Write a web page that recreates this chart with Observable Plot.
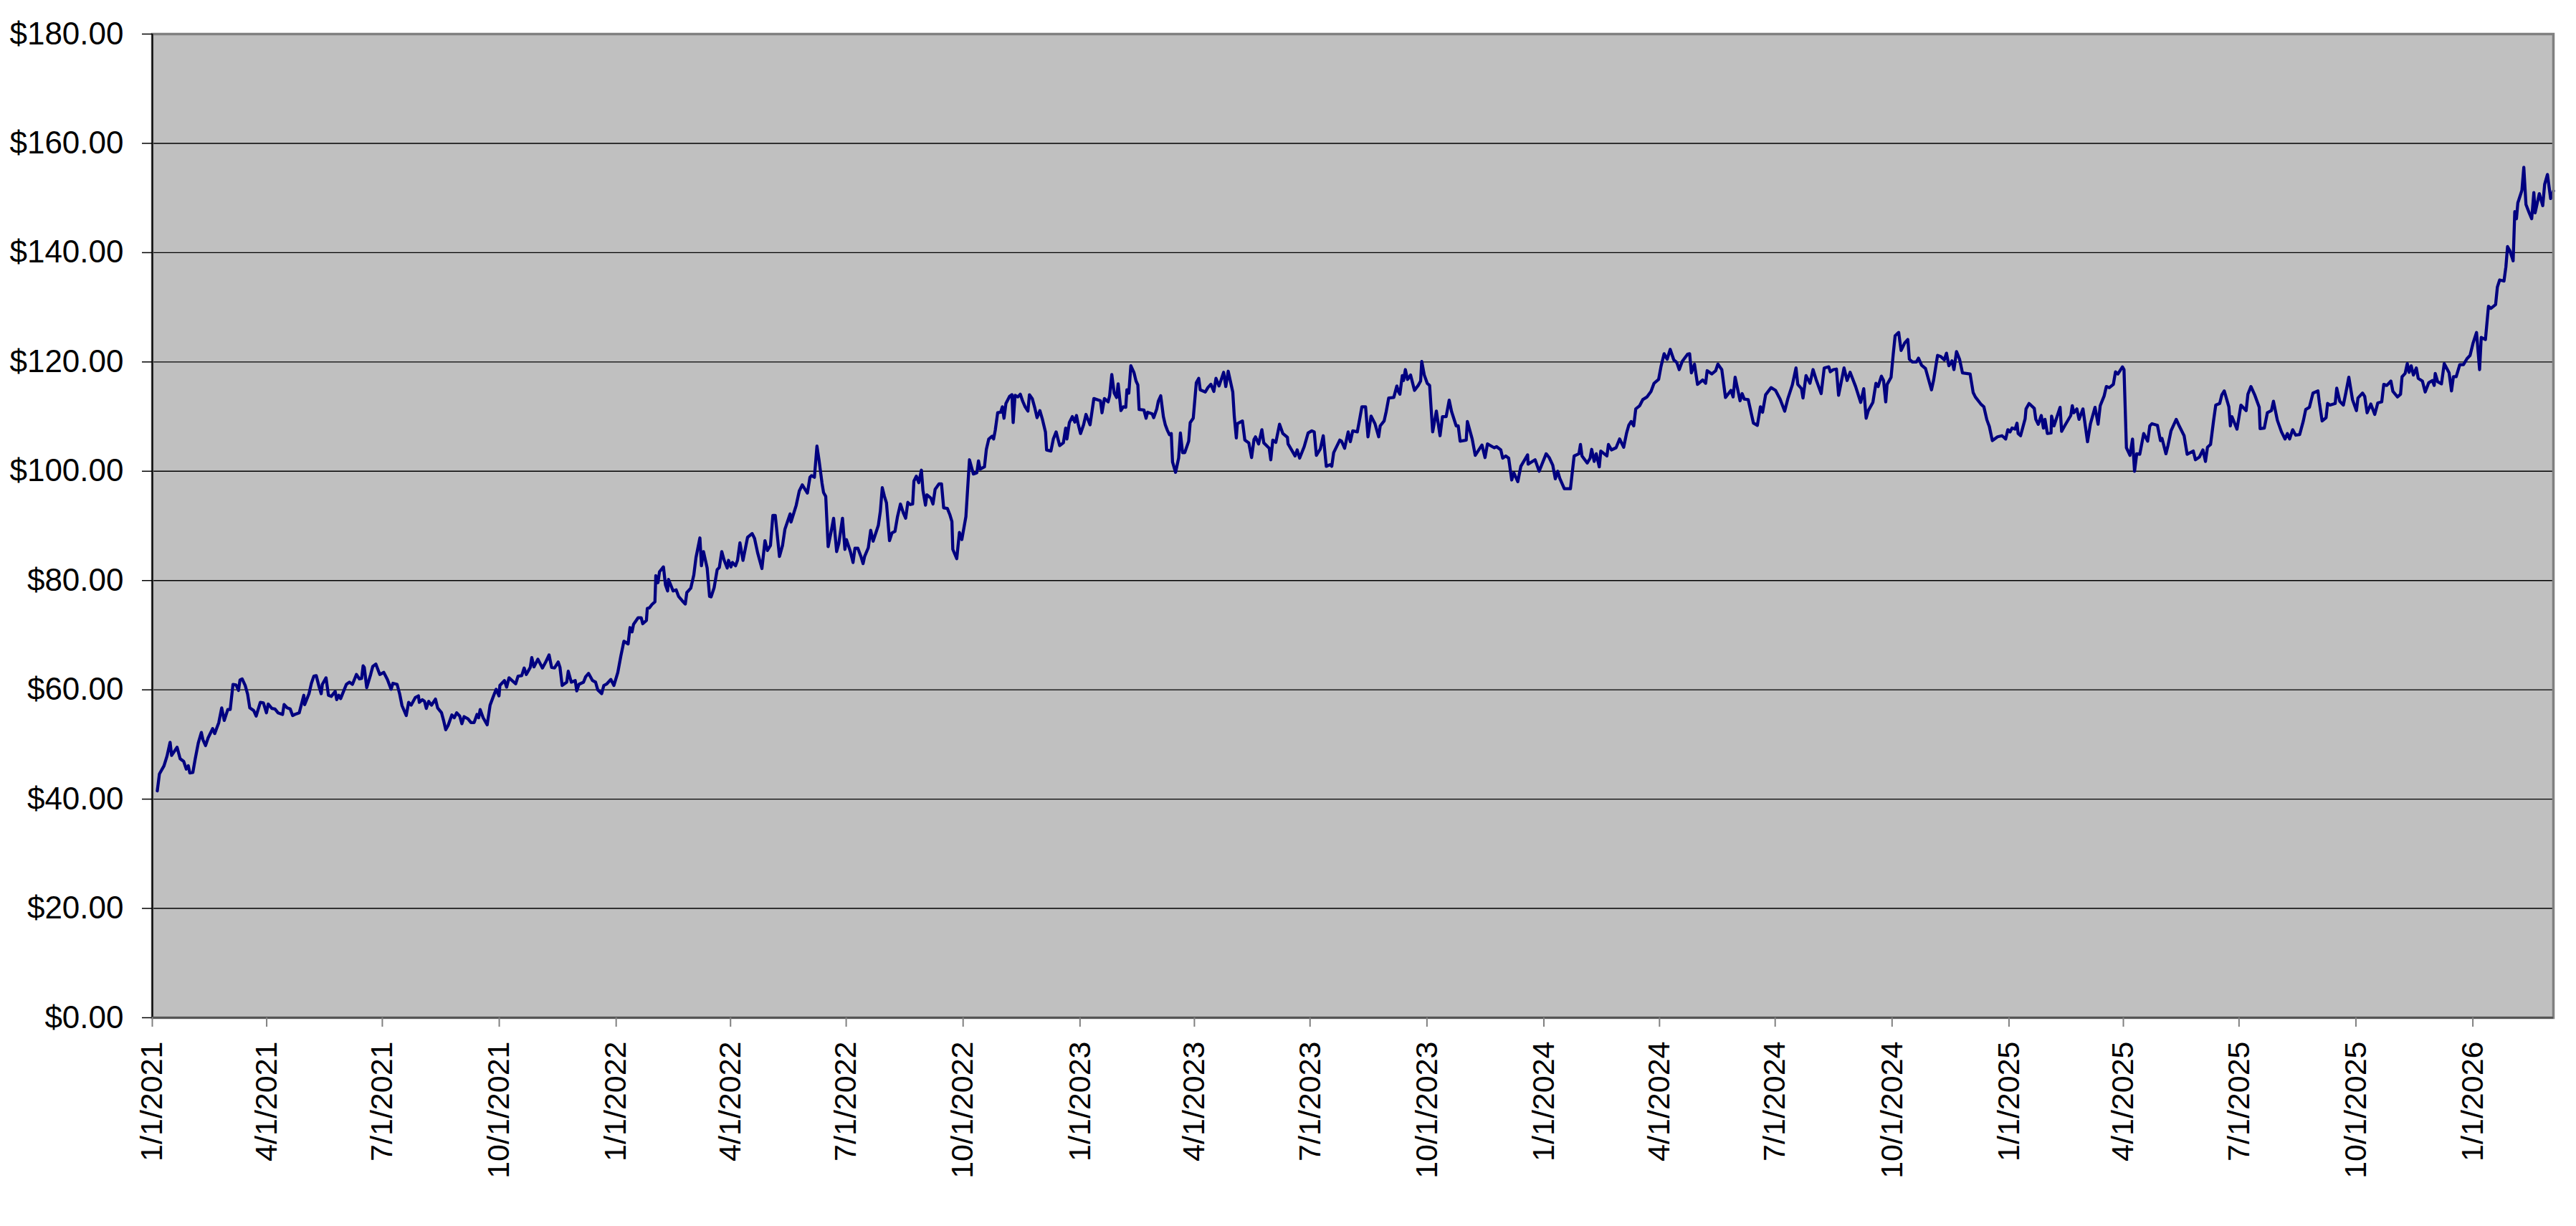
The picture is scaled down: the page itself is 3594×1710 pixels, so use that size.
<!DOCTYPE html>
<html>
<head>
<meta charset="utf-8">
<script src="https://cdn.jsdelivr.net/npm/d3@7"></script>
<script src="https://cdn.jsdelivr.net/npm/@observablehq/plot@0.6"></script>
<style>
  html, body { margin: 0; padding: 0; background: #ffffff; }
  #chart svg { display: block; }
</style>
</head>
<body>
<div id="chart"></div>
<script>
// Series start date; day offsets below are days since this date
const startDate = "2021-01-01";

// 2021
const days2021 = [3.9,5.6,9.2,11.6,14,15.2,19.5,21.9,24.7,26.7,28.3,29.5,31.9,33.8,36.2,38.6,39.8,41.9,43.9,47.5,49.1,52.3,54.6,56.6,59.4,61.3,63.5,65.9,67.8,69,70.7,73.1,75,76.7,79.8,81.7,85,87.4,89.8,91.2,94.1,96.5,98.9,102.5,103.7,106.1,108.5,110.4,112.1,115.6,119.2,119.9,123.3,125.2,127.1,129,131.2,132.9,133.8,136.7,138.6,140.8,143.9,145.1,146.7,148.2,152.7,155.1,157.5,160.6,163,164.7,165.9,166.8,168.7,171.8,173.5,175.9,179,182.1,185,187.9,189.3,192.6,194.6,196.5,199.8,201.7,203.7,207,209.4,210.1,212.5,214.2,215.6,217.5,219.7,222.8,224.5,227.6,229.2,230.9,232.8,235.7,237.6,239.5,241.9,243.6,245.3,248.4,250.8,253.2,255.5,256.8,258,260.3,263.5,265.8,268.7,270.6,272.8,273.5,277.1,278.8,280.7,285.9,287.8,290.7,292.6,294.3,297.4,298.6,300.3,303.4,307,309.8,312.2,314.2,316.5,319.4,320.8,322.5,326.1,327.3,329.7,332.8,334,335.7,339.3,341,343.3,346.4,348.8,350.5,353.6,355.3,357.7,360.8,363.2,366.3];
const price2021 = [41.5,44.6,46.1,47.9,50.4,48.0,49.5,47.4,46.9,45.5,46.1,44.8,44.9,47.4,50.3,52.2,50.9,49.8,51.2,52.9,52.0,54.0,56.7,54.4,56.4,56.4,61.0,60.9,59.9,61.8,62.0,60.8,59.2,56.7,56.2,55.2,57.7,57.6,55.8,57.4,56.6,56.5,55.8,55.5,57.3,56.7,56.5,55.3,55.5,55.8,59.0,57.3,59.3,61.2,62.5,62.6,60.6,59.3,61.0,62.2,59.0,58.8,59.7,58.2,59.0,58.4,61.0,61.4,61.0,62.8,62.0,62.1,64.4,64.1,60.4,62.8,64.3,64.7,62.8,63.2,61.9,60.1,61.2,61.0,59.3,57.1,55.3,57.7,57.2,58.6,58.9,57.7,58.2,57.9,56.6,57.9,57.2,58.3,56.7,55.8,54.4,52.7,53.5,55.4,54.9,55.8,55.2,53.8,55.1,54.7,54.0,54.0,55.5,54.9,56.4,54.9,53.6,57.2,59.0,60.1,58.9,60.8,61.7,60.5,62.2,61.1,62.5,62.6,64.0,62.8,64.1,65.9,64.2,65.6,64.0,65.2,66.4,64.1,64.0,65.1,64.1,60.8,61.4,63.4,61.4,61.7,59.8,61.0,61.4,62.4,63.0,61.7,61.4,60.0,59.3,60.8,61.1,61.9,60.8,63.2];

// 2022
const days2022 = [368.7,371.1,374.4,375.9,377.5,378.7,382.3,384.7,385.9,388.8,389.5,391.2,393.1,395.5,396.2,397.9,399.1,402.2,403.8,405.5,406.2,409.8,412.2,414.1,417,419.4,420.6,423.7,426.1,427.8,430.9,432.1,433.7,436.6,438.5,439.7,442.1,444.5,446.2,448.1,450,452.4,453.4,455.3,456.5,458.9,460.5,462.4,464.8,468.4,472,473.9,476.3,479.7,482.1,484,486.4,488.3,490.2,493.5,495.9,497.8,501.9,502.6,506.7,509.1,511.5,515.5,517.5,518.7,521,523,524.6,527,528.2,529.9,531.8,534.2,536.1,538.5,540.2,543.1,545,546.2,549.3,551.4,552.9,555.2,557.6,559.3,560.5,563.4,565.3,567.2,571.3,572.9,574.4,576.1,577.7,580.1,582,584.4,586.3,588.7,591.1,592.8,594.5,596.4,598.3,599.3,601.2,603.1,605.2,606.4,608.4,609.5,612.6,614.3,616,619.1,621,622.7,625.6,627.5,629.2,629.9,633,635.1,637,640.2,643,646.1,648.8,650.1,651.4,654.8,656.3,658.2,660.8,662,663.3,665.2,667.6,668.9,670.2,671.7,674.6,676.4,677.4,678.9,681.1,683,684.9,686.8,689,690.2,692.4,694.3,696.2,698.4,700.3,702.8,703.7,707.1,709,711.2,714,716.9,718.7,719.7,721.6,724,725.9,727.2,728.5,730.4,732.8,734.7,737.9,740.9];
const price2022 = [66.2,68.9,68.4,71.4,70.6,72.0,73.2,73.2,72.1,72.7,74.9,75.0,75.6,76.1,80.9,79.6,81.6,82.5,79.2,78.1,80.2,78.1,78.3,77.1,76.3,75.7,77.8,78.6,81.0,84.2,87.8,82.7,85.3,82.3,77.1,77.0,78.7,82.0,82.4,85.3,83.7,82.3,83.7,82.5,83.3,82.7,83.7,86.9,83.7,87.9,88.6,87.7,85.1,82.2,87.3,85.5,86.4,91.9,91.9,84.4,86.4,89.4,92.2,90.7,93.8,96.4,97.5,96.0,98.9,99.2,98.9,104.6,102.1,97.8,96.1,95.4,86.2,89.0,91.4,85.3,86.8,91.4,85.7,87.5,85.3,83.3,85.9,85.9,84.4,83.1,84.4,86.0,89.2,87.2,90.1,92.7,97.0,95.4,94.2,87.3,88.7,89.0,91.6,94.0,92.3,91.4,94.3,93.9,94.0,98.2,99.1,97.9,100.2,96.5,93.8,95.7,95.1,94.0,96.7,97.7,97.7,93.3,93.2,92.1,90.8,85.7,84.0,88.8,87.5,91.7,102.1,99.5,99.7,101.9,100.4,100.8,104.0,105.9,106.4,105.9,107.5,110.7,110.8,111.8,109.7,112.4,113.7,114.0,108.9,113.9,113.6,114.1,112.8,111.8,111.0,114.0,113.3,111.7,109.8,111.1,109.6,107.2,103.9,103.7,105.9,107.2,104.7,105.2,107.9,105.9,108.9,110.0,109.0,110.2,108.7,106.9,108.5,110.4,108.5,113.3];

// 2023
const days2023 = [746.1,747.3,749.2,752.1,753.3,755,756.9,758.8,760,762.2,764.1,766,766.9,768.4,770,772.4,774.1,775.5,776.5,780.3,782,783.2,786.8,788,790.4,791.6,793.5,795.6,797.1,798.7,800.4,801.8,802.8,805.2,807.6,809,810.7,812.4,815.5,816.7,819.1,821.5,823.4,824.6,828.6,830.6,833,835.3,837,839.4,843,844.7,846.6,850.2,851.4,853,853.8,857.8,859.7,862.8,865,866.9,868.1,870.5,873.1,874.6,878.9,880.1,881.7,884.1,887,889.6,893.2,893.7,899.2,900.9,902.8,906.4,909.5,912.4,914.3,916,919.1,921.4,923.8,926.7,928.1,929.6,934.4,935.8,938.2,941,942.7,944.6,948.2,950.1,951.8,954.7,956.6,959,962.1,965,966.2,969.3,971,972.9,976.9,979.3,980.5,981.7,983.6,984.6,986,987.7,990.1,993.2,996.1,998,998.9,1000.9,1003.2,1005.1,1007.5,1010.4,1013.3,1015.2,1018.1,1020.5,1022.4,1026,1027.6,1029.1,1033.9,1034.8,1038.6,1041,1046.3,1048.7,1050.6,1055.9,1057.8,1061.1,1062.6,1065,1067.3,1069.7,1071.4,1074.5,1076.9,1082.2,1082.6,1088.1,1091.3];
const price2023 = [112.9,110.7,113.3,112.7,113.8,117.7,114.3,113.5,116.0,111.1,111.8,111.7,114.9,114.3,119.3,118.1,116.5,115.8,111.3,111.2,109.7,110.8,110.5,109.8,111.4,112.8,113.8,110.0,108.5,107.5,106.7,106.9,101.7,99.8,102.4,107.0,103.4,103.4,105.5,108.9,109.7,116.2,117.0,114.9,114.5,115.3,115.9,114.6,117.0,115.6,118.1,115.5,118.3,114.5,110.0,106.1,108.7,109.2,105.7,105.2,102.5,105.8,106.3,105.0,107.6,105.2,104.2,102.1,105.7,105.3,108.6,106.9,106.2,105.0,102.8,103.9,102.4,104.5,107.0,107.4,107.2,102.9,104.1,106.5,100.9,101.2,100.9,103.4,105.7,105.5,104.2,107.2,105.4,107.4,107.2,109.6,111.8,111.8,106.3,110.1,108.7,106.3,108.3,109.2,111.0,113.4,113.5,115.6,114.6,114.1,117.5,116.6,118.6,116.8,117.6,114.8,115.7,116.5,120.1,117.6,116.1,115.7,107.2,111.0,106.5,110.0,110.0,113.0,110.9,108.3,108.3,105.5,105.7,109.1,105.9,102.9,104.8,102.5,105.0,104.3,104.5,103.9,102.4,102.8,102.4,98.4,99.7,98.1,100.9,103.0,101.3,102.1,100.0];

// 2024
const days2024 = [1096.8,1099.2,1102,1104,1105.9,1107.5,1111.1,1115.9,1118.8,1122.6,1123.8,1125,1129.1,1131.4,1132.6,1134.6,1136.2,1138.6,1139.8,1144.6,1145.8,1148.2,1151.8,1154.6,1157.8,1160.1,1161.8,1163.7,1165.7,1167.3,1170.4,1172.8,1176.2,1179.3,1181.7,1185.3,1187.2,1189.6,1192,1194.4,1197.2,1199.6,1201.5,1203.9,1208,1209.7,1211.1,1213.5,1215.9,1220,1222.3,1223.5,1227.1,1230.2,1231.9,1235,1237.9,1242.2,1243.9,1245.5,1249.4,1251,1252.7,1255.8,1259.9,1263,1265.4,1267.1,1269.5,1273.8,1277.3,1280.9,1284.5,1286.9,1290.5,1293.4,1294.8,1297.7,1298.9,1301.3,1304.4,1306.8,1309.2,1313.2,1315.6,1319.2,1320.4,1322.8,1325.2,1326.9,1331.2,1333.6,1336,1340.3,1344.3,1346.7,1348.6,1350.3,1353.9,1356.3,1358,1360.6,1362.3,1364,1365.1,1368.2,1369.9,1371.4,1374.2,1376.1,1379,1381.4,1382.6,1385,1388.1,1389.8,1392.2,1395.3,1397.7,1400,1401.7,1404.8,1407.2,1410.1,1411.8,1413.7,1416.1,1417.7,1419.7,1422.1,1424.4,1430.4,1432.8,1434.5,1438.8,1441.2,1443.6,1445.5,1447.9,1452,1455.5,1458.4];
const price2024 = [103.2,102.5,101.1,98.6,100.0,98.7,96.8,96.8,102.8,103.2,104.9,102.8,101.5,102.4,104.0,101.8,103.2,100.8,103.7,102.8,104.9,103.9,104.3,105.9,104.4,107.0,108.4,109.1,108.3,111.4,112.0,113.1,113.6,114.6,116.1,116.8,119.2,121.5,120.5,122.3,120.4,119.9,118.6,120.1,121.4,121.5,118.0,119.6,115.9,116.7,116.1,118.4,117.8,118.4,119.6,118.6,113.5,114.8,113.6,117.2,112.9,114.2,113.2,113.1,108.8,108.4,111.8,110.8,114.0,115.3,114.8,113.2,111.0,113.2,115.8,118.9,115.9,115.1,113.4,117.5,116.1,118.6,116.8,114.2,118.9,119.1,118.2,118.6,118.7,113.9,118.9,116.6,118.1,115.5,112.6,115.1,109.7,111.1,112.6,116.1,115.5,117.4,116.6,112.7,115.9,117.2,121.4,124.8,125.4,122.1,123.5,124.1,120.5,120.0,120.0,120.7,119.4,118.8,116.8,114.9,116.7,121.2,121.0,120.4,121.6,119.3,120.2,118.6,121.9,120.5,118.0,117.8,114.4,113.6,112.3,111.8,109.4,108.2,105.6,106.3,106.5,105.9];

// 2025
const days2025 = [1460.1,1461.8,1463.4,1465.8,1467.3,1468.2,1470.1,1473.7,1474.4,1476.8,1480.9,1482.1,1484,1486.4,1488.1,1489.3,1491.2,1494.1,1494.5,1496.4,1501.2,1502.4,1504.8,1509.6,1510.8,1512,1514.4,1516.1,1519.2,1522.8,1525.1,1528.7,1531.1,1532.8,1535.9,1537.6,1540,1543.1,1544.8,1546.7,1550.3,1551.5,1553.4,1556.2,1558.2,1559.8,1561.5,1563.9,1567,1570.1,1571.8,1573.5,1577.8,1580.2,1581.4,1584.5,1586.1,1588.5,1592.6,1594.5,1598.8,1601.2,1606,1607.7,1610.8,1613.6,1615.6,1617.2,1619.6,1622,1623.7,1626.8,1628.5,1630.4,1634,1635.2,1636.4,1640.4,1643.5,1647.6,1649,1651.4,1654.3,1657.9,1658.6,1661.9,1664.3,1667.5,1669.1,1672.2,1675.4,1678.2,1680.1,1681.8,1684.2,1686.6,1689.7,1692.6,1694.5,1697.4,1700.2,1704.1,1705.2,1707.4,1710.5,1711.7,1713.6,1717.7,1718.9,1721.3,1724.1,1726.1,1728.4,1731.3,1734.4,1735.6,1739.2,1740.9,1742.8,1745.7,1748.8,1751.2,1754.3,1755.9,1758.3,1761.5,1763.1,1766.7,1769.1,1770.3,1772.7,1774.4,1775.8,1777.5,1779.2,1781.5,1783,1786.3];
const price2025 = [107.6,107.2,107.9,107.7,108.8,106.9,106.5,109.6,111.4,112.4,111.5,109.5,108.6,110.2,107.9,109.5,106.9,107.0,110.1,108.3,111.7,107.3,108.3,110.2,112.0,110.7,111.4,109.5,111.4,105.4,108.7,111.7,108.6,112.0,113.8,115.5,115.3,115.9,118.2,117.8,119.1,118.6,104.3,102.9,105.9,100.0,103.2,103.1,106.9,105.5,108.3,108.7,108.4,105.6,106.0,103.2,104.7,107.4,109.5,108.5,106.5,103.1,103.7,102.1,102.6,103.9,101.8,104.4,104.9,109.3,112.1,112.4,114.0,114.7,111.8,108.3,110.0,107.7,112.1,111.1,114.1,115.5,114.0,111.7,107.8,107.9,110.7,111.1,112.8,109.3,107.2,105.9,106.9,105.9,107.6,106.6,106.7,109.2,111.3,111.7,114.3,114.7,112.6,109.2,109.8,112.4,112.1,112.4,115.2,112.8,112.1,114.4,117.2,113.1,111.1,113.4,114.3,113.7,110.7,112.3,110.4,112.5,112.7,115.9,115.7,116.5,114.6,113.6,114.1,117.3,117.9,119.7,118.1,119.3,117.6,118.9,117.0,116.5];

// 2026
const days2026 = [1788.5,1791.3,1794.1,1795.6,1796.4,1798.3,1801.3,1803.5,1807.3,1809.2,1810.7,1812.9,1815.7,1818.6,1821.4,1823.8,1826.1,1828.9,1831.3,1832.6,1835.9,1838.3,1840.2,1843.9,1845.3,1847.1,1850.5,1852,1853.3,1855.2,1857.7,1859,1860.3,1861.4,1864.6,1866.1,1867.8,1870.3,1872.3,1874,1875,1878.3,1881,1882.5,1884.7,1887.2,1889.4];
const price2026 = [114.5,116.2,116.6,115.7,117.9,116.4,116.0,119.7,118.0,114.7,117.3,117.3,119.5,119.5,120.6,121.2,123.4,125.4,118.6,124.5,124.1,130.2,129.8,130.5,133.7,135.0,134.8,137.4,141.1,140.3,138.5,147.5,146.2,149.1,151.4,155.6,148.8,147.3,146.2,151.0,147.3,150.8,148.6,152.5,154.3,149.9,151.3];

// Axis ticks
const xTickDates = ["2021-01-01","2021-04-01","2021-07-01","2021-10-01","2022-01-01","2022-04-01","2022-07-01","2022-10-01","2023-01-01","2023-04-01","2023-07-01","2023-10-01","2024-01-01","2024-04-01","2024-07-01","2024-10-01","2025-01-01","2025-04-01","2025-07-01","2025-10-01","2026-01-01"];
const yTicks = [0, 20, 40, 60, 80, 100, 120, 140, 160, 180];

// Build table
const start = new Date(startDate + "T00:00:00Z");
const allDays = [].concat(days2021, days2022, days2023, days2024, days2025, days2026);
const allPrice = [].concat(price2021, price2022, price2023, price2024, price2025, price2026);
const data = allDays.map((d, i) => ({ date: new Date(start.getTime() + d * 864e5), price: allPrice[i] }));
const endDate = data[data.length - 1].date;
const xTicks = xTickDates.map(s => new Date(s + "T00:00:00Z"));
const fmtDate = d3.utcFormat("%-m/%-d/%Y");
const fmtMoney = v => "$" + v.toFixed(2);

const chart = Plot.plot({
  width: 3594,
  height: 1710,
  marginLeft: 212,
  marginRight: 32,
  marginTop: 47,
  marginBottom: 291,
  style: { fontFamily: "'Liberation Sans', Arial, sans-serif", background: "#ffffff", color: "#000" },
  x: { type: "utc", domain: [start, endDate] },
  y: { domain: [0, 180] },
  marks: [
    Plot.frame({ fill: "#C0C0C0" }),
    Plot.gridY(yTicks, { stroke: "#000", strokeOpacity: 1, strokeWidth: 1.4 }),
    Plot.line(data, { x: "date", y: "price", stroke: "#000080", strokeWidth: 4.3, strokeLinejoin: "round", strokeLinecap: "round" }),
    Plot.frame({ stroke: "#808080", strokeWidth: 3.5 }),
    Plot.ruleX([start], { stroke: "#000", strokeWidth: 2 }),
    Plot.ruleY([0], { stroke: "#555", strokeWidth: 3 }),
    Plot.axisY(yTicks, { tickFormat: fmtMoney, tickSize: 14, tickPadding: 26, fontSize: 44, stroke: "#000", strokeWidth: 1.5, label: null }),
    Plot.axisX(xTicks, { tickFormat: fmtDate, tickSize: 13, tickPadding: 20, fontSize: 43, tickRotate: -90, stroke: "#808080", strokeWidth: 2, label: null })
  ]
});
document.getElementById("chart").appendChild(chart);
</script>
</body>
</html>
